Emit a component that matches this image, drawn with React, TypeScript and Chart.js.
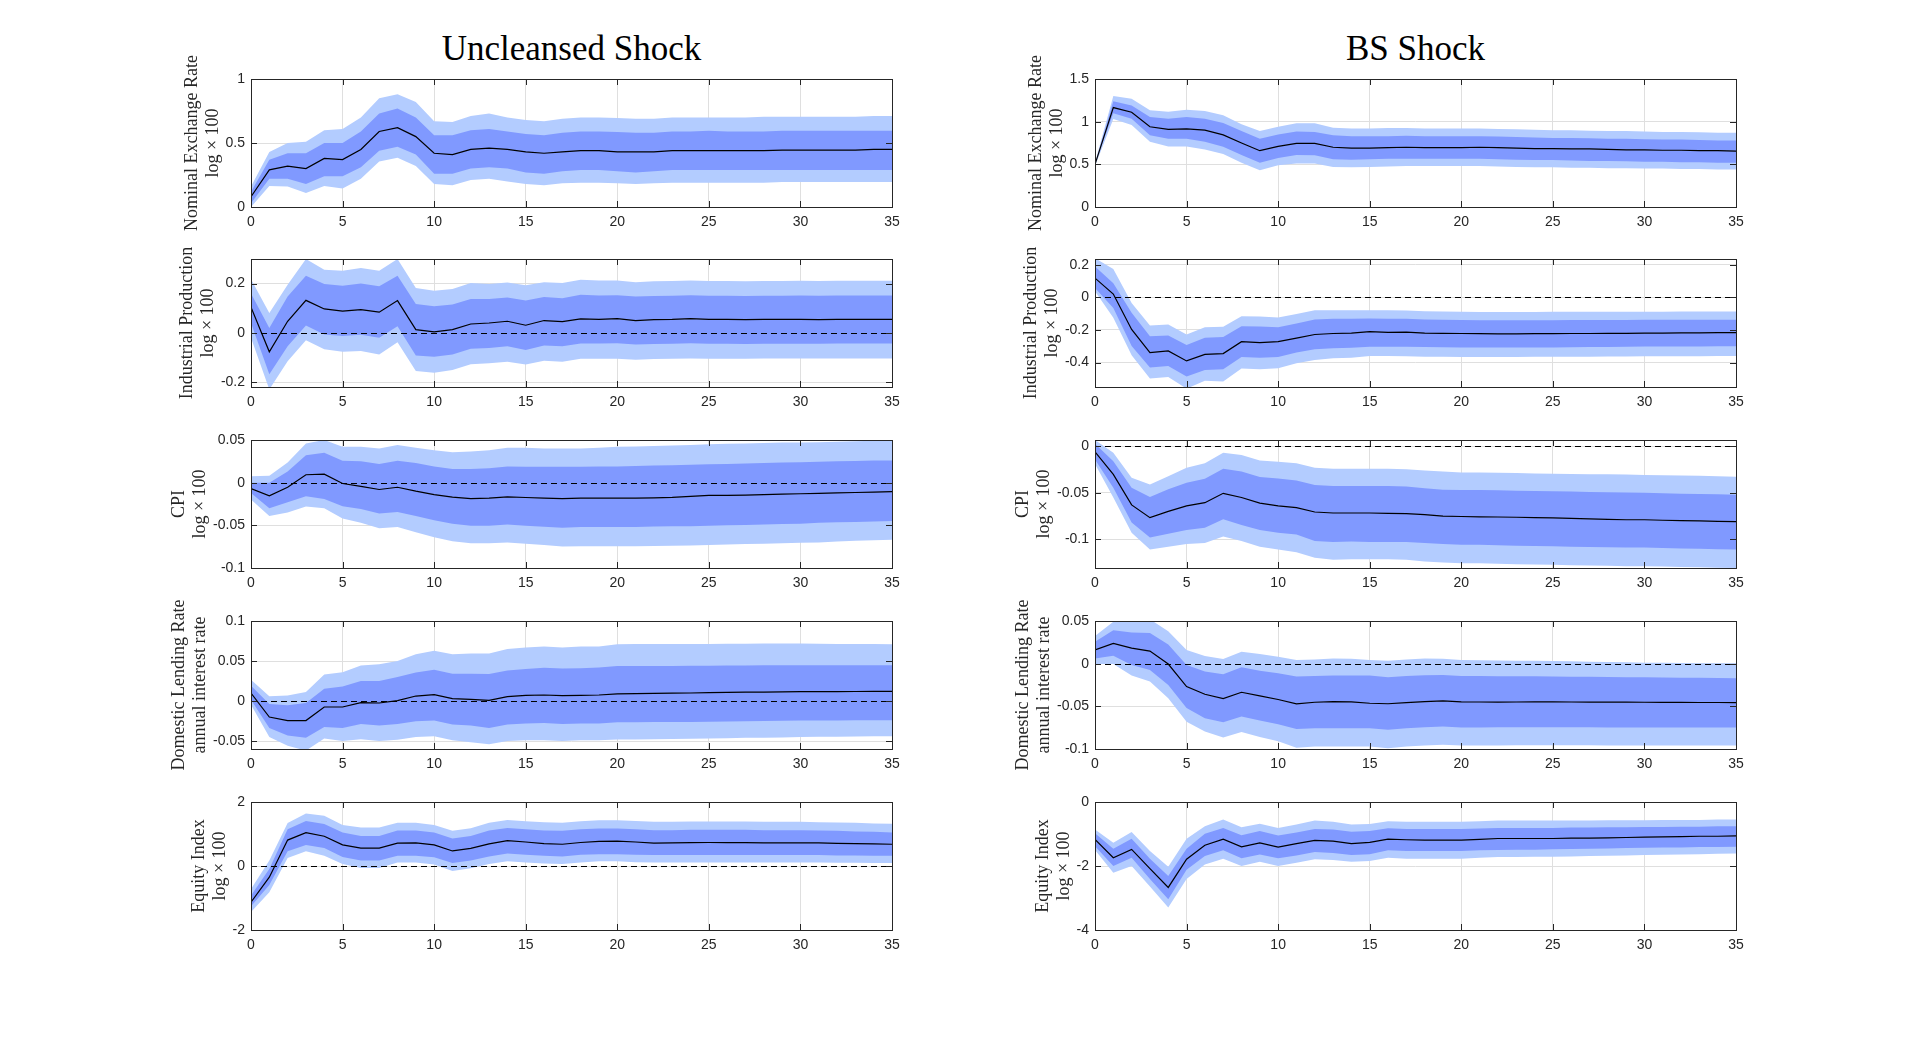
import React, { useEffect, useRef } from "react";
import { Chart, registerables } from "chart.js";

Chart.register(...registerables);

// ---------------- data ----------------
const horizons = [0,1,2,3,4,5,6,7,8,9,10,11,12,13,14,15,16,17,18,19,20,21,22,23,24,25,26,27,28,29,30,31,32,33,34,35];
const xTickValues = [0, 5, 10, 15, 20, 25, 30, 35];

const columnTitles = ["Uncleansed Shock", "BS Shock"];
const rowLabels = [
  ["Nominal Exchange Rate", "log × 100"],
  ["Industrial Production", "log × 100"],
  ["CPI", "log × 100"],
  ["Domestic Lending Rate", "annual interest rate"],
  ["Equity Index", "log × 100"],
];

const uncYLimits = [[0, 1], [-0.22, 0.3], [-0.1, 0.05], [-0.06, 0.1], [-2, 2]];
const bsYLimits = [[0, 1.5], [-0.55, 0.235], [-0.131, 0.007], [-0.1, 0.05], [-4, 0]];
const uncYTicks = [[0, 0.5, 1], [-0.2, 0, 0.2], [-0.1, -0.05, 0, 0.05], [-0.05, 0, 0.05, 0.1], [-2, 0, 2]];
const bsYTicks = [[0, 0.5, 1, 1.5], [-0.4, -0.2, 0, 0.2], [-0.1, -0.05, 0], [-0.1, -0.05, 0, 0.05], [-4, -2, 0]];

// Uncleansed: Nominal exchange rate
const uncNerMed = [0.08,0.29,0.32,0.30,0.38,0.37,0.45,0.59,0.62,0.55,0.42,0.41,0.45,0.46,0.45,0.43,0.42,0.43,0.44,0.44,0.43,0.43,0.43,0.44,0.44,0.44,0.44,0.44,0.44,0.445,0.445,0.445,0.445,0.445,0.45,0.45];
const uncNerInHi = [0.12,0.37,0.42,0.42,0.50,0.50,0.59,0.73,0.77,0.70,0.56,0.56,0.60,0.61,0.59,0.57,0.56,0.58,0.59,0.59,0.585,0.58,0.58,0.59,0.59,0.595,0.59,0.59,0.59,0.595,0.595,0.595,0.595,0.595,0.595,0.595];
const uncNerInLo = [0.03,0.22,0.22,0.18,0.24,0.24,0.31,0.44,0.47,0.41,0.26,0.26,0.30,0.31,0.30,0.27,0.26,0.28,0.29,0.29,0.28,0.27,0.28,0.29,0.29,0.29,0.29,0.29,0.29,0.29,0.29,0.29,0.29,0.29,0.29,0.29];
const uncNerOutHi = [0.16,0.43,0.50,0.51,0.60,0.61,0.70,0.85,0.88,0.82,0.67,0.665,0.71,0.73,0.70,0.68,0.67,0.69,0.70,0.70,0.695,0.69,0.69,0.70,0.70,0.70,0.70,0.70,0.705,0.705,0.705,0.705,0.705,0.705,0.71,0.71];
const uncNerOutLo = [0.0,0.165,0.16,0.11,0.165,0.145,0.22,0.355,0.385,0.32,0.18,0.17,0.21,0.22,0.20,0.18,0.17,0.185,0.19,0.19,0.185,0.18,0.185,0.19,0.19,0.19,0.19,0.19,0.19,0.195,0.195,0.195,0.195,0.195,0.195,0.195];

// BS: Nominal exchange rate
const bsNerMed = [0.50,1.165,1.11,0.94,0.91,0.915,0.90,0.845,0.75,0.66,0.71,0.745,0.745,0.70,0.69,0.69,0.695,0.70,0.695,0.695,0.695,0.70,0.695,0.69,0.685,0.685,0.68,0.68,0.675,0.67,0.67,0.665,0.665,0.66,0.66,0.655];
const bsNerInHi = [0.50,1.24,1.19,1.055,1.035,1.055,1.035,0.985,0.89,0.80,0.85,0.885,0.88,0.84,0.83,0.83,0.83,0.835,0.83,0.83,0.83,0.83,0.825,0.82,0.815,0.81,0.81,0.805,0.80,0.80,0.795,0.79,0.79,0.785,0.78,0.78];
const bsNerInLo = [0.50,1.10,1.035,0.84,0.80,0.80,0.765,0.705,0.61,0.52,0.575,0.61,0.605,0.56,0.555,0.56,0.565,0.565,0.565,0.565,0.565,0.565,0.56,0.555,0.55,0.55,0.545,0.54,0.54,0.535,0.53,0.53,0.525,0.525,0.52,0.52];
const bsNerOutHi = [0.52,1.30,1.27,1.135,1.115,1.14,1.125,1.075,0.97,0.89,0.94,0.98,0.98,0.93,0.92,0.92,0.925,0.925,0.92,0.92,0.92,0.92,0.915,0.91,0.905,0.90,0.90,0.895,0.89,0.89,0.885,0.88,0.88,0.875,0.87,0.87];
const bsNerOutLo = [0.48,1.03,0.96,0.765,0.71,0.71,0.675,0.62,0.52,0.43,0.49,0.51,0.51,0.47,0.465,0.47,0.475,0.48,0.48,0.48,0.48,0.48,0.475,0.47,0.465,0.465,0.46,0.46,0.455,0.455,0.45,0.45,0.445,0.445,0.44,0.44];

// Uncleansed: Industrial production
const uncIpMed = [0.104,-0.077,0.047,0.132,0.097,0.088,0.094,0.084,0.131,0.013,0.004,0.013,0.036,0.04,0.047,0.031,0.05,0.046,0.057,0.055,0.058,0.05,0.054,0.055,0.058,0.055,0.055,0.054,0.055,0.055,0.055,0.054,0.055,0.055,0.055,0.055];
const uncIpInHi = [0.16,0.02,0.148,0.232,0.198,0.191,0.2,0.189,0.232,0.117,0.108,0.115,0.137,0.137,0.144,0.131,0.146,0.141,0.155,0.152,0.153,0.148,0.150,0.151,0.153,0.151,0.151,0.150,0.151,0.151,0.152,0.151,0.152,0.152,0.152,0.152];
const uncIpInLo = [0.04,-0.168,-0.054,0.03,-0.007,-0.013,-0.008,-0.02,0.027,-0.092,-0.097,-0.088,-0.065,-0.062,-0.054,-0.07,-0.051,-0.054,-0.043,-0.043,-0.042,-0.047,-0.045,-0.044,-0.042,-0.044,-0.044,-0.045,-0.044,-0.044,-0.044,-0.044,-0.043,-0.043,-0.043,-0.043];
const uncIpOutHi = [0.218,0.081,0.195,0.30,0.256,0.252,0.263,0.252,0.30,0.182,0.171,0.178,0.202,0.198,0.205,0.193,0.206,0.202,0.216,0.213,0.213,0.206,0.210,0.211,0.213,0.211,0.211,0.210,0.211,0.211,0.212,0.211,0.212,0.212,0.212,0.212];
const uncIpOutLo = [-0.02,-0.23,-0.115,-0.03,-0.067,-0.077,-0.074,-0.088,-0.038,-0.155,-0.162,-0.151,-0.128,-0.124,-0.117,-0.129,-0.113,-0.117,-0.105,-0.105,-0.105,-0.109,-0.106,-0.105,-0.104,-0.105,-0.105,-0.105,-0.104,-0.104,-0.104,-0.104,-0.104,-0.104,-0.104,-0.104];

// BS: Industrial production
const bsIpMed = [0.118,0.02,-0.197,-0.339,-0.329,-0.39,-0.35,-0.345,-0.272,-0.278,-0.272,-0.25,-0.228,-0.222,-0.22,-0.211,-0.215,-0.213,-0.22,-0.221,-0.222,-0.223,-0.224,-0.224,-0.223,-0.223,-0.222,-0.222,-0.221,-0.221,-0.220,-0.219,-0.218,-0.218,-0.217,-0.217];
const bsIpInHi = [0.189,0.087,-0.095,-0.238,-0.234,-0.293,-0.248,-0.244,-0.177,-0.179,-0.183,-0.16,-0.136,-0.132,-0.131,-0.130,-0.131,-0.132,-0.136,-0.138,-0.139,-0.140,-0.140,-0.140,-0.140,-0.140,-0.139,-0.139,-0.139,-0.139,-0.138,-0.138,-0.138,-0.137,-0.137,-0.137];
const bsIpInLo = [0.057,-0.065,-0.299,-0.431,-0.421,-0.486,-0.445,-0.441,-0.366,-0.37,-0.366,-0.339,-0.319,-0.313,-0.309,-0.303,-0.303,-0.303,-0.305,-0.306,-0.307,-0.308,-0.308,-0.308,-0.307,-0.307,-0.306,-0.305,-0.304,-0.303,-0.302,-0.302,-0.301,-0.301,-0.300,-0.300];
const bsIpOutHi = [0.24,0.173,-0.035,-0.173,-0.167,-0.228,-0.183,-0.181,-0.116,-0.118,-0.124,-0.102,-0.079,-0.080,-0.080,-0.079,-0.080,-0.081,-0.085,-0.087,-0.089,-0.090,-0.090,-0.090,-0.090,-0.089,-0.089,-0.089,-0.088,-0.088,-0.088,-0.088,-0.087,-0.087,-0.087,-0.087];
const bsIpOutLo = [0.037,-0.126,-0.356,-0.498,-0.488,-0.56,-0.512,-0.516,-0.437,-0.441,-0.435,-0.404,-0.384,-0.374,-0.37,-0.36,-0.36,-0.362,-0.364,-0.365,-0.366,-0.366,-0.366,-0.366,-0.365,-0.365,-0.364,-0.364,-0.363,-0.363,-0.362,-0.362,-0.361,-0.361,-0.360,-0.360];

// Uncleansed: CPI
const uncCpiMed = [-0.007,-0.0155,-0.0054,0.0093,0.010,-0.001,-0.0043,-0.008,-0.0054,-0.010,-0.014,-0.017,-0.0186,-0.018,-0.0167,-0.0174,-0.018,-0.0186,-0.018,-0.018,-0.018,-0.018,-0.0178,-0.0172,-0.016,-0.015,-0.015,-0.0145,-0.014,-0.0135,-0.013,-0.0125,-0.012,-0.0115,-0.011,-0.0105];
const uncCpiInHi = [0.0,0.0,0.013,0.032,0.035,0.0256,0.025,0.022,0.0256,0.023,0.019,0.016,0.016,0.017,0.019,0.0186,0.0186,0.0186,0.0186,0.019,0.019,0.0195,0.020,0.0205,0.021,0.0215,0.022,0.0225,0.023,0.0235,0.024,0.0245,0.025,0.0255,0.026,0.026];
const uncCpiInLo = [-0.012,-0.030,-0.023,-0.016,-0.019,-0.0275,-0.031,-0.036,-0.0345,-0.039,-0.044,-0.048,-0.0504,-0.0504,-0.049,-0.0504,-0.0516,-0.0527,-0.052,-0.052,-0.052,-0.052,-0.0515,-0.0512,-0.051,-0.0505,-0.050,-0.0495,-0.049,-0.0485,-0.048,-0.047,-0.0465,-0.046,-0.0455,-0.045];
const uncCpiOutHi = [0.0074,0.008,0.0236,0.046,0.050,0.042,0.042,0.040,0.044,0.041,0.038,0.0357,0.0364,0.038,0.041,0.041,0.040,0.040,0.040,0.041,0.042,0.0425,0.043,0.0435,0.044,0.045,0.0455,0.046,0.0465,0.047,0.047,0.0475,0.048,0.0485,0.049,0.050];
const uncCpiOutLo = [-0.0198,-0.039,-0.035,-0.028,-0.030,-0.042,-0.047,-0.0535,-0.052,-0.058,-0.064,-0.0686,-0.071,-0.071,-0.070,-0.0717,-0.073,-0.0748,-0.0745,-0.0744,-0.0744,-0.0744,-0.0742,-0.074,-0.0735,-0.073,-0.0725,-0.072,-0.0715,-0.071,-0.0705,-0.070,-0.069,-0.068,-0.0675,-0.067];

// BS: CPI
const bsCpiMed = [-0.0057,-0.030,-0.063,-0.0767,-0.070,-0.064,-0.0606,-0.0505,-0.055,-0.061,-0.064,-0.066,-0.0706,-0.0717,-0.0717,-0.0717,-0.072,-0.0724,-0.0735,-0.075,-0.0755,-0.0758,-0.076,-0.0763,-0.0766,-0.077,-0.0775,-0.078,-0.0785,-0.079,-0.079,-0.0795,-0.080,-0.0803,-0.0807,-0.081];
const bsCpiInHi = [0.003,-0.0158,-0.0444,-0.0545,-0.046,-0.039,-0.0348,-0.024,-0.027,-0.033,-0.0344,-0.0366,-0.0416,-0.0427,-0.0427,-0.0427,-0.0427,-0.043,-0.045,-0.0466,-0.047,-0.047,-0.0473,-0.0476,-0.048,-0.0483,-0.0486,-0.049,-0.0493,-0.0496,-0.050,-0.0505,-0.051,-0.0513,-0.0516,-0.052];
const bsCpiInLo = [-0.014,-0.0444,-0.082,-0.098,-0.094,-0.090,-0.0875,-0.0785,-0.0846,-0.090,-0.093,-0.095,-0.102,-0.103,-0.1025,-0.103,-0.103,-0.103,-0.104,-0.105,-0.106,-0.106,-0.1065,-0.107,-0.1073,-0.1076,-0.108,-0.1083,-0.1086,-0.109,-0.109,-0.1095,-0.110,-0.1103,-0.1107,-0.111];
const bsCpiOutHi = [0.007,-0.0068,-0.0337,-0.041,-0.032,-0.023,-0.018,-0.0068,-0.0093,-0.015,-0.0165,-0.018,-0.023,-0.024,-0.024,-0.024,-0.024,-0.0245,-0.026,-0.027,-0.028,-0.028,-0.0283,-0.0286,-0.029,-0.0293,-0.0296,-0.030,-0.030,-0.0303,-0.0306,-0.031,-0.0313,-0.0316,-0.032,-0.0326];
const bsCpiOutLo = [-0.019,-0.055,-0.093,-0.111,-0.108,-0.105,-0.104,-0.097,-0.102,-0.108,-0.111,-0.114,-0.120,-0.122,-0.1215,-0.1215,-0.1215,-0.122,-0.124,-0.125,-0.126,-0.126,-0.1265,-0.127,-0.1273,-0.1276,-0.128,-0.1283,-0.1286,-0.129,-0.129,-0.1295,-0.130,-0.1303,-0.1307,-0.131];

// Uncleansed: Domestic lending rate
const uncLrMed = [0.010,-0.020,-0.0245,-0.0245,-0.0075,-0.0075,-0.002,-0.0025,0.0004,0.0062,0.0079,0.003,0.002,0.0008,0.0054,0.007,0.0075,0.0066,0.007,0.0075,0.009,0.0093,0.0095,0.0098,0.010,0.0104,0.0108,0.0112,0.0112,0.0114,0.0116,0.0117,0.0118,0.0119,0.012,0.012];
const uncLrInHi = [0.019,-0.0037,-0.0054,-0.0025,0.0154,0.018,0.025,0.025,0.030,0.0357,0.039,0.034,0.034,0.0336,0.038,0.040,0.0415,0.0407,0.041,0.042,0.0436,0.0437,0.0438,0.0439,0.044,0.044,0.0443,0.0445,0.0446,0.0447,0.0448,0.0448,0.0448,0.0448,0.0448,0.0448];
const uncLrInLo = [0.0017,-0.0336,-0.043,-0.046,-0.0324,-0.0336,-0.0286,-0.0307,-0.0286,-0.0253,-0.0245,-0.0295,-0.0307,-0.0336,-0.0295,-0.028,-0.0274,-0.0286,-0.028,-0.028,-0.0266,-0.0265,-0.0264,-0.0262,-0.0261,-0.026,-0.0257,-0.0254,-0.0251,-0.0248,-0.0245,-0.0244,-0.0243,-0.0242,-0.0241,-0.024];
const uncLrOutHi = [0.0266,0.0058,0.007,0.0112,0.033,0.036,0.0444,0.046,0.050,0.0585,0.0627,0.0585,0.0593,0.0593,0.065,0.067,0.068,0.0668,0.068,0.068,0.071,0.0711,0.0712,0.0713,0.0714,0.0714,0.0716,0.0717,0.0718,0.0718,0.0718,0.0716,0.0714,0.0712,0.0711,0.071];
const uncLrOutLo = [-0.0046,-0.045,-0.056,-0.062,-0.047,-0.050,-0.0477,-0.050,-0.0485,-0.045,-0.044,-0.049,-0.0515,-0.054,-0.050,-0.049,-0.049,-0.050,-0.049,-0.049,-0.048,-0.048,-0.0478,-0.0476,-0.0473,-0.047,-0.0465,-0.046,-0.0458,-0.0455,-0.045,-0.0448,-0.0446,-0.0444,-0.0442,-0.044];

// BS: Domestic lending rate
const bsLrMed = [0.016,0.0238,0.0183,0.0148,-0.0004,-0.0269,-0.0358,-0.041,-0.0335,-0.0378,-0.042,-0.047,-0.0452,-0.0444,-0.0448,-0.0464,-0.047,-0.0456,-0.0444,-0.0436,-0.0448,-0.0449,-0.045,-0.0449,-0.0448,-0.0448,-0.0449,-0.045,-0.045,-0.0451,-0.0452,-0.0453,-0.0454,-0.0455,-0.0455,-0.0456];
const bsLrInHi = [0.0257,0.0393,0.0366,0.036,0.0226,-0.0016,-0.0093,-0.0125,-0.0043,-0.0082,-0.0113,-0.015,-0.0144,-0.014,-0.014,-0.014,-0.016,-0.0144,-0.0136,-0.0132,-0.0144,-0.0145,-0.0146,-0.0147,-0.0148,-0.015,-0.0152,-0.0154,-0.0156,-0.0158,-0.016,-0.0162,-0.0164,-0.0166,-0.0168,-0.017];
const bsLrInLo = [0.0062,0.0093,-0.0016,-0.0074,-0.025,-0.052,-0.064,-0.0686,-0.062,-0.0666,-0.0709,-0.0767,-0.0756,-0.0756,-0.0756,-0.0756,-0.0775,-0.0756,-0.0745,-0.0736,-0.0748,-0.0747,-0.0746,-0.0745,-0.0744,-0.0744,-0.0745,-0.0746,-0.0747,-0.0748,-0.0748,-0.0748,-0.0748,-0.0748,-0.0748,-0.0748];
const bsLrOutHi = [0.0323,0.049,0.050,0.052,0.038,0.016,0.009,0.0055,0.014,0.0113,0.0082,0.0043,0.005,0.0062,0.0058,0.0043,0.0035,0.005,0.0062,0.0058,0.0043,0.0041,0.0038,0.0035,0.0033,0.0031,0.0027,0.0023,0.002,0.0016,0.0012,0.001,0.0008,0.0006,0.0005,0.0004];
const bsLrOutLo = [-0.0004,-0.0004,-0.014,-0.021,-0.0405,-0.068,-0.0794,-0.0865,-0.080,-0.086,-0.091,-0.0985,-0.097,-0.097,-0.097,-0.097,-0.099,-0.097,-0.096,-0.095,-0.096,-0.096,-0.0958,-0.0956,-0.0955,-0.0955,-0.0956,-0.0957,-0.0958,-0.0959,-0.096,-0.096,-0.096,-0.096,-0.096,-0.096];

// Uncleansed: Equity index
const uncEqMed = [-1.13,-0.35,0.81,1.04,0.93,0.66,0.56,0.56,0.715,0.725,0.66,0.47,0.55,0.69,0.79,0.75,0.70,0.68,0.735,0.77,0.78,0.75,0.715,0.72,0.73,0.735,0.73,0.73,0.725,0.725,0.725,0.72,0.71,0.70,0.69,0.68];
const uncEqInHi = [-0.92,-0.09,1.15,1.41,1.31,1.05,0.94,0.94,1.11,1.11,1.05,0.86,0.94,1.11,1.19,1.15,1.11,1.10,1.15,1.17,1.17,1.15,1.12,1.12,1.13,1.13,1.13,1.13,1.12,1.12,1.12,1.11,1.10,1.08,1.07,1.05];
const uncEqInLo = [-1.26,-0.59,0.46,0.66,0.56,0.28,0.17,0.17,0.32,0.32,0.27,0.09,0.17,0.30,0.39,0.35,0.32,0.30,0.35,0.37,0.37,0.35,0.34,0.34,0.34,0.34,0.34,0.34,0.34,0.34,0.34,0.34,0.33,0.33,0.32,0.32];
const uncEqOutHi = [-0.72,0.17,1.34,1.64,1.57,1.28,1.20,1.20,1.35,1.35,1.28,1.10,1.18,1.35,1.44,1.40,1.37,1.35,1.40,1.43,1.43,1.41,1.38,1.38,1.39,1.39,1.39,1.39,1.38,1.38,1.38,1.37,1.36,1.35,1.33,1.32];
const uncEqOutLo = [-1.44,-0.82,0.25,0.46,0.32,0.06,-0.06,-0.06,0.11,0.11,0.05,-0.155,-0.07,0.06,0.145,0.11,0.08,0.06,0.11,0.145,0.145,0.12,0.11,0.11,0.11,0.11,0.11,0.11,0.11,0.11,0.11,0.11,0.10,0.10,0.09,0.09];

// BS: Equity index
const bsEqMed = [-1.17,-1.74,-1.48,-2.08,-2.67,-1.79,-1.35,-1.16,-1.40,-1.28,-1.41,-1.30,-1.20,-1.22,-1.30,-1.26,-1.16,-1.18,-1.19,-1.19,-1.19,-1.17,-1.14,-1.14,-1.14,-1.14,-1.13,-1.13,-1.12,-1.11,-1.10,-1.09,-1.08,-1.07,-1.07,-1.06];
const bsEqInHi = [-0.98,-1.46,-1.15,-1.77,-2.31,-1.46,-0.99,-0.81,-1.04,-0.91,-1.05,-0.95,-0.84,-0.86,-0.93,-0.91,-0.82,-0.84,-0.84,-0.84,-0.84,-0.83,-0.81,-0.81,-0.81,-0.81,-0.80,-0.80,-0.79,-0.79,-0.78,-0.78,-0.77,-0.77,-0.76,-0.76];
const bsEqInLo = [-1.38,-2.0,-1.74,-2.41,-3.04,-2.12,-1.69,-1.51,-1.76,-1.64,-1.76,-1.67,-1.56,-1.59,-1.66,-1.63,-1.51,-1.53,-1.53,-1.53,-1.53,-1.51,-1.50,-1.49,-1.49,-1.48,-1.47,-1.46,-1.45,-1.44,-1.43,-1.42,-1.42,-1.41,-1.41,-1.40];
const bsEqOutHi = [-0.86,-1.27,-0.94,-1.53,-2.02,-1.15,-0.76,-0.55,-0.79,-0.68,-0.81,-0.70,-0.58,-0.62,-0.70,-0.69,-0.60,-0.62,-0.62,-0.62,-0.62,-0.60,-0.58,-0.58,-0.58,-0.58,-0.58,-0.58,-0.57,-0.57,-0.57,-0.56,-0.56,-0.56,-0.55,-0.55];
const bsEqOutLo = [-1.50,-2.21,-2.0,-2.64,-3.30,-2.41,-1.95,-1.77,-2.0,-1.87,-2.0,-1.90,-1.79,-1.81,-1.87,-1.84,-1.74,-1.77,-1.77,-1.77,-1.77,-1.74,-1.72,-1.72,-1.71,-1.71,-1.70,-1.69,-1.68,-1.67,-1.66,-1.65,-1.64,-1.63,-1.62,-1.61];

// ---------------- panel tables ----------------
type Bands = { med: number[]; inHi: number[]; inLo: number[]; outHi: number[]; outLo: number[] };

const uncPanels: Bands[] = [
  { med: uncNerMed, inHi: uncNerInHi, inLo: uncNerInLo, outHi: uncNerOutHi, outLo: uncNerOutLo },
  { med: uncIpMed, inHi: uncIpInHi, inLo: uncIpInLo, outHi: uncIpOutHi, outLo: uncIpOutLo },
  { med: uncCpiMed, inHi: uncCpiInHi, inLo: uncCpiInLo, outHi: uncCpiOutHi, outLo: uncCpiOutLo },
  { med: uncLrMed, inHi: uncLrInHi, inLo: uncLrInLo, outHi: uncLrOutHi, outLo: uncLrOutLo },
  { med: uncEqMed, inHi: uncEqInHi, inLo: uncEqInLo, outHi: uncEqOutHi, outLo: uncEqOutLo },
];
const bsPanels: Bands[] = [
  { med: bsNerMed, inHi: bsNerInHi, inLo: bsNerInLo, outHi: bsNerOutHi, outLo: bsNerOutLo },
  { med: bsIpMed, inHi: bsIpInHi, inLo: bsIpInLo, outHi: bsIpOutHi, outLo: bsIpOutLo },
  { med: bsCpiMed, inHi: bsCpiInHi, inLo: bsCpiInLo, outHi: bsCpiOutHi, outLo: bsCpiOutLo },
  { med: bsLrMed, inHi: bsLrInHi, inLo: bsLrInLo, outHi: bsLrOutHi, outLo: bsLrOutLo },
  { med: bsEqMed, inHi: bsEqInHi, inLo: bsEqInLo, outHi: bsEqOutHi, outLo: bsEqOutLo },
];

// ---------------- style ----------------
const OUTER = "rgb(179,204,255)";
const INNER = "rgb(128,153,255)";
const GRID = "#dfdfdf";
const AXIS = "#262626";
const SANS = "'Liberation Sans', Arial, sans-serif";
const SERIF = "'Liberation Serif', 'Times New Roman', serif";
const TICK_SIZE = 14;
const LABEL_SIZE = 18;

const COL_LEFT = [160, 1004];
const Y_AXIS_W = 91;
const PLOT_W = 641;
const PAD_R = 20;
const ROW_TOPS = [79, 259, 440, 621, 802];
const PLOT_H = 128;
const PAD_T = 30;
const X_AXIS_H = 28;
const PAD_B = 2;

const framePlugin = {
  id: "frame",
  afterDatasetsDraw(chart: any, _args: any, opts: any) {
    const { ctx, chartArea } = chart;
    const L = Math.round(chartArea.left);
    const T = Math.round(chartArea.top);
    const R = Math.round(chartArea.right);
    const B = Math.round(chartArea.bottom);
    const xs = chart.scales.x;
    const ys = chart.scales.y;
    ctx.save();
    // zero reference line
    const y0 = ys.getPixelForValue(0);
    if (y0 > T + 1 && y0 < B - 1) {
      const yy = Math.round(y0) + 0.5;
      ctx.beginPath();
      ctx.setLineDash([6, 4]);
      ctx.strokeStyle = "#000";
      ctx.lineWidth = 1;
      ctx.moveTo(L, yy);
      ctx.lineTo(R, yy);
      ctx.stroke();
    }
    ctx.setLineDash([]);
    // inner tick marks
    ctx.strokeStyle = AXIS;
    ctx.lineWidth = 1;
    ctx.beginPath();
    for (const t of xs.ticks) {
      const px = Math.round(xs.getPixelForValue(t.value)) + 0.5;
      ctx.moveTo(px, B);
      ctx.lineTo(px, B - 6);
      ctx.moveTo(px, T);
      ctx.lineTo(px, T + 6);
    }
    for (const t of ys.ticks) {
      const py = Math.round(ys.getPixelForValue(t.value)) + 0.5;
      ctx.moveTo(L, py);
      ctx.lineTo(L + 6, py);
      ctx.moveTo(R, py);
      ctx.lineTo(R - 6, py);
    }
    ctx.stroke();
    // box
    ctx.strokeRect(L + 0.5, T + 0.5, R - L, B - T);
    // y-axis label (two lines, rotated)
    ctx.font = `${TICK_SIZE}px ${SANS}`;
    let maxW = 0;
    for (const t of ys.ticks) maxW = Math.max(maxW, ctx.measureText(String(t.label)).width);
    const lines: string[] = opts.lines || [];
    const lastX = L - 6 - maxW - 12.5;
    const cy = (T + B) / 2;
    ctx.font = `${LABEL_SIZE}px ${SERIF}`;
    ctx.fillStyle = AXIS;
    ctx.textAlign = "center";
    ctx.textBaseline = "middle";
    lines.forEach((ln, i) => {
      const x = lastX - (lines.length - 1 - i) * 21;
      ctx.save();
      ctx.translate(x, cy);
      ctx.rotate(-Math.PI / 2);
      ctx.fillText(ln, 0, 0);
      ctx.restore();
    });
    ctx.restore();
  },
};

function toXY(values: number[]) {
  return values.map((v, i) => ({ x: horizons[i], y: v }));
}

function Panel(props: { bands: Bands; yLim: number[]; yTicks: number[]; lines: string[]; left: number; top: number }) {
  const ref = useRef<HTMLCanvasElement | null>(null);
  const { bands, yLim, yTicks, lines, left, top } = props;
  const width = Y_AXIS_W + PLOT_W + PAD_R;
  const height = PAD_T + PLOT_H + X_AXIS_H + PAD_B;

  useEffect(() => {
    if (!ref.current) return;
    const bandStyle = { borderColor: "rgba(0,0,0,0)", borderWidth: 0, pointRadius: 0, pointHoverRadius: 0, tension: 0 };
    const chart = new Chart(ref.current, {
      type: "line",
      data: {
        datasets: [
          { data: toXY(bands.med), borderColor: "#000", borderWidth: 1.2, pointRadius: 0, fill: false, order: 0, tension: 0 },
          { ...bandStyle, data: toXY(bands.inHi), fill: "+1", backgroundColor: INNER, order: 1 },
          { ...bandStyle, data: toXY(bands.inLo), fill: false, order: 1 },
          { ...bandStyle, data: toXY(bands.outHi), fill: "+1", backgroundColor: OUTER, order: 2 },
          { ...bandStyle, data: toXY(bands.outLo), fill: false, order: 2 },
        ],
      } as any,
      options: {
        animation: false,
        responsive: false,
        maintainAspectRatio: false,
        events: [],
        layout: { padding: { left: 0, right: PAD_R, top: PAD_T, bottom: PAD_B } },
        plugins: {
          legend: { display: false },
          tooltip: { enabled: false },
          title: { display: false },
          filler: { propagate: false },
          frame: { lines },
        } as any,
        scales: {
          x: {
            type: "linear",
            min: 0,
            max: 35,
            afterBuildTicks: (s: any) => {
              s.ticks = xTickValues.map((v) => ({ value: v }));
            },
            afterFit: (s: any) => {
              s.height = X_AXIS_H;
            },
            grid: { color: GRID, lineWidth: 1, drawTicks: false },
            border: { display: false },
            ticks: {
              font: { family: SANS, size: TICK_SIZE },
              color: AXIS,
              padding: 7,
              maxRotation: 0,
              autoSkip: false,
              callback: (v: any) => String(v),
            },
          },
          y: {
            type: "linear",
            min: yLim[0],
            max: yLim[1],
            afterBuildTicks: (s: any) => {
              s.ticks = yTicks.map((v) => ({ value: v }));
            },
            afterFit: (s: any) => {
              s.width = Y_AXIS_W;
            },
            grid: { color: GRID, lineWidth: 1, drawTicks: false },
            border: { display: false },
            ticks: {
              font: { family: SANS, size: TICK_SIZE },
              color: AXIS,
              padding: 6,
              autoSkip: false,
              callback: (v: any) => String(v),
            },
          },
        },
      } as any,
      plugins: [framePlugin as any],
    });
    return () => chart.destroy();
  }, []);

  return (
    <canvas
      ref={ref}
      width={width}
      height={height}
      style={{ position: "absolute", left, top: top - PAD_T, width, height }}
    />
  );
}

export default function App() {
  const cols = [
    { panels: uncPanels, lims: uncYLimits, ticks: uncYTicks },
    { panels: bsPanels, lims: bsYLimits, ticks: bsYTicks },
  ];
  return (
    <div style={{ position: "absolute", left: 0, top: 0, width: 1920, height: 1046, background: "#fff", overflow: "hidden" }}>
      {columnTitles.map((t, c) => (
        <div
          key={t}
          style={{
            position: "absolute",
            left: COL_LEFT[c] + Y_AXIS_W,
            width: PLOT_W,
            top: 29,
            textAlign: "center",
            fontFamily: SERIF,
            fontSize: 35,
            lineHeight: "40px",
            color: "#000",
            whiteSpace: "nowrap",
          }}
        >
          {t}
        </div>
      ))}
      {cols.map((col, c) =>
        col.panels.map((b, r) => (
          <Panel
            key={`${c}-${r}`}
            bands={b}
            yLim={col.lims[r]}
            yTicks={col.ticks[r]}
            lines={rowLabels[r]}
            left={COL_LEFT[c]}
            top={ROW_TOPS[r]}
          />
        ))
      )}
    </div>
  );
}
